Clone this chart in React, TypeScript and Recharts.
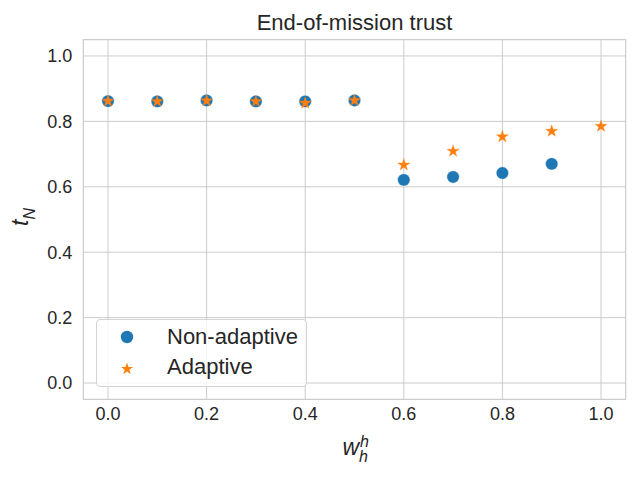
import React from 'react';
import {
  ScatterChart,
  Scatter,
  XAxis,
  YAxis,
  CartesianGrid,
  ReferenceArea,
  Legend,
  Customized,
  Symbols,
} from 'recharts';

const FONT = '"Liberation Sans", Arial, sans-serif';
const TEXT = '#262626';
const BLUE = '#1f77b4';
const ORANGE = '#ff7f0e';

const weightsNonAdaptive = [0.0, 0.1, 0.2, 0.3, 0.4, 0.5, 0.6, 0.7, 0.8, 0.9];
const trustNonAdaptive = [0.862, 0.861, 0.864, 0.861, 0.861, 0.864, 0.621, 0.63, 0.642, 0.67];

const weightsAdaptive = [0.0, 0.1, 0.2, 0.3, 0.4, 0.5, 0.6, 0.7, 0.8, 0.9, 1.0];
const trustAdaptive = [0.862, 0.861, 0.863, 0.861, 0.856, 0.864, 0.667, 0.709, 0.753, 0.77, 0.785];

const xTicks = [0.0, 0.2, 0.4, 0.6, 0.8, 1.0];
const yTicks = [0.0, 0.2, 0.4, 0.6, 0.8, 1.0];
const domain: [number, number] = [-0.05, 1.05];

const nonData = weightsNonAdaptive.map((x, i) => ({ x, y: trustNonAdaptive[i] }));
const adData = weightsAdaptive.map((x, i) => ({ x, y: trustAdaptive[i] }));

const CircleShape = (p: any) => (
  <circle cx={p.cx} cy={p.cy} r={6.2} fill={BLUE} stroke="#ffffff" strokeWidth={0.4} />
);
const StarShape = (p: any) => (
  <Symbols type="star" cx={p.cx} cy={p.cy} size={46} fill={ORANGE} stroke={ORANGE} strokeWidth={0.3} />
);

const LegendBox = () => (
  <div
    style={{
      width: 211,
      height: 68,
      boxSizing: 'border-box',
      border: '1px solid #d4d4d4',
      borderRadius: 4,
      background: 'rgba(255,255,255,0.8)',
      position: 'relative',
    }}
  >
    <svg width={211} height={68} style={{ position: 'absolute', left: -1, top: -1 }}>
      <circle cx={31} cy={18} r={6.2} fill={BLUE} />
      <Symbols type="star" cx={31} cy={50} size={46} fill={ORANGE} />
      <text x={71} y={24.5} fontFamily={FONT} fontSize={22} fill={TEXT}>
        Non-adaptive
      </text>
      <text x={71} y={54.5} fontFamily={FONT} fontSize={22} fill={TEXT}>
        Adaptive
      </text>
    </svg>
  </div>
);

const Texts = () => (
  <g>
    <text x={354.5} y={30} textAnchor="middle" fontFamily={FONT} fontSize={22} fill={TEXT}>
      End-of-mission trust
    </text>
    <text x={342.5} y={455} fontFamily={FONT} fill={TEXT} fontStyle="italic" fontSize={23}>
      w
    </text>
    <text x={360} y={446.5} fontFamily={FONT} fill={TEXT} fontStyle="italic" fontSize={16}>
      h
    </text>
    <text x={359} y={462} fontFamily={FONT} fill={TEXT} fontStyle="italic" fontSize={16}>
      h
    </text>
    <text
      x={217}
      y={27.5}
      transform="rotate(-90 217 217)"
      textAnchor="middle"
      fontFamily={FONT}
      fill={TEXT}
      fontStyle="italic"
    >
      <tspan fontSize={23}>t</tspan>
      <tspan fontSize={16} dy={7.5}>N</tspan>
    </text>
  </g>
);

export default function App() {
  return (
    <div style={{ position: 'absolute', left: 0, top: 0, width: 640, height: 480, background: '#fff' }}>
      <ScatterChart
        width={640}
        height={480}
        margin={{ top: 39.6, right: 14.35, bottom: 50.6, left: 23.35 }}
      >
        <CartesianGrid stroke="#cccccc" strokeWidth={1} horizontalValues={yTicks} verticalValues={xTicks} />
        <ReferenceArea
          x1={domain[0]}
          x2={domain[1]}
          y1={domain[0]}
          y2={domain[1]}
          fill="none"
          stroke="#cccccc"
          strokeWidth={1.2}
          ifOverflow="visible"
        />
        <XAxis
          dataKey="x"
          type="number"
          domain={domain}
          ticks={xTicks}
          allowDataOverflow
          height={30}
          axisLine={false}
          tickLine={false}
          tickSize={0}
          tickMargin={8}
          tickFormatter={(v: number) => v.toFixed(1)}
          tick={{ fontFamily: FONT, fontSize: 18, fill: TEXT }}
        />
        <YAxis
          dataKey="y"
          type="number"
          domain={domain}
          ticks={yTicks}
          allowDataOverflow
          width={60}
          axisLine={false}
          tickLine={false}
          tickSize={0}
          tickMargin={11}
          tickFormatter={(v: number) => v.toFixed(1)}
          tick={{ fontFamily: FONT, fontSize: 18, fill: TEXT }}
        />
        <Scatter name="Non-adaptive" data={nonData} shape={CircleShape} isAnimationActive={false} />
        <Scatter name="Adaptive" data={adData} shape={StarShape} isAnimationActive={false} />
        <Legend
          layout="vertical"
          align="center"
          verticalAlign="middle"
          content={() => <LegendBox />}
          wrapperStyle={{ left: 96, top: 319, width: 211, height: 68 }}
        />
        <Customized component={Texts} />
      </ScatterChart>
    </div>
  );
}
